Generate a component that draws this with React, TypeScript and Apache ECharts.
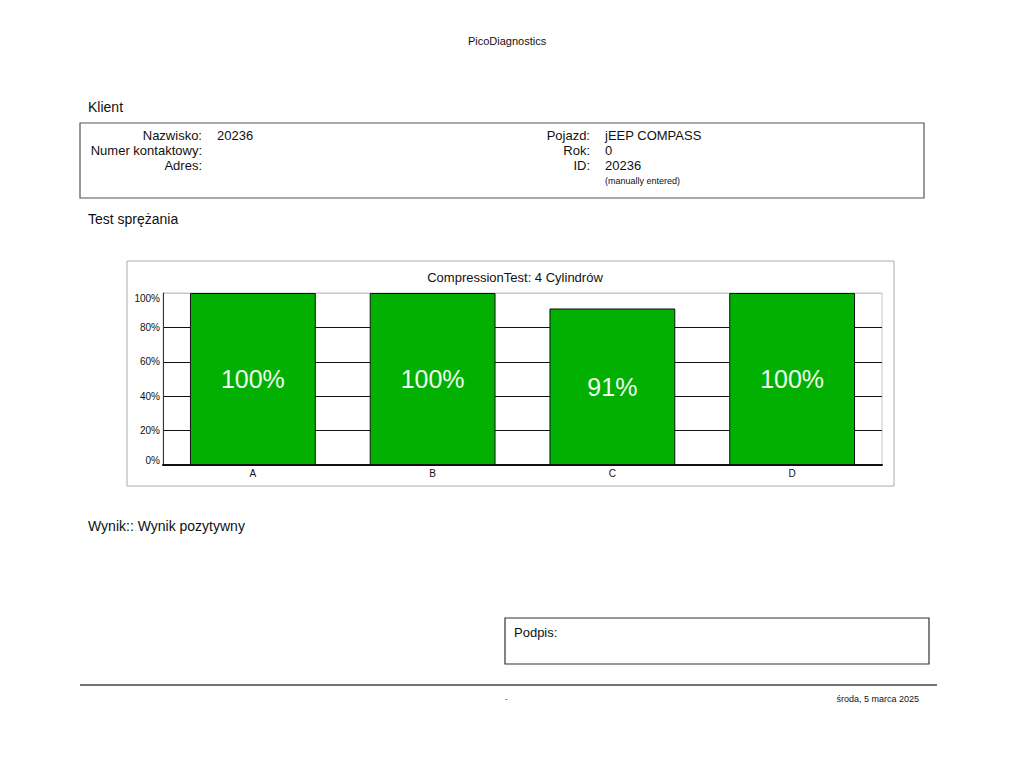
import React, { useEffect, useRef } from "react";
import * as echarts from "echarts";

const categories = ["A", "B", "C", "D"];
const compression = [100, 100, 91, 100];
const yTicks = [0, 20, 40, 60, 80, 100];

const FONT = "Liberation Sans, Arial, sans-serif";

function txt(x: number, y: number, text: string, size: number, align = "left", color = "#111") {
  return {
    type: "text",
    x,
    y,
    silent: true,
    style: {
      text,
      font: `${size}px ${FONT}`,
      fill: color,
      align,
      verticalAlign: "middle",
    },
  };
}

export default function App() {
  const ref = useRef<HTMLDivElement>(null);
  useEffect(() => {
    if (!ref.current) return;
    const chart = echarts.init(ref.current, undefined, { renderer: "svg" });
    const option: any = {
      animation: false,
      backgroundColor: "#ffffff",
      title: {
        text: "CompressionTest: 4 Cylindrów",
        left: 510,
        top: 266,
        textAlign: "center",
        textStyle: { fontFamily: FONT, fontSize: 13, fontWeight: "normal", color: "#111" },
      },
      grid: {
        left: 163,
        top: 293,
        width: 719,
        height: 172,
        show: true,
        borderColor: "#c8c8c8",
        borderWidth: 1,
        backgroundColor: "transparent",
      },
      xAxis: {
        type: "category",
        data: categories,
        axisLine: { show: true, lineStyle: { color: "#111", width: 2 } },
        axisTick: { show: false },
        axisLabel: { fontFamily: FONT, fontSize: 10, color: "#111", margin: 3 },
        z: 5,
      },
      yAxis: {
        type: "value",
        min: 0,
        max: 100,
        interval: 20,
        axisLine: { show: true, lineStyle: { color: "#333", width: 1 } },
        axisTick: { show: false },
        axisLabel: {
          fontFamily: FONT,
          fontSize: 10,
          color: "#111",
          margin: 3,
          formatter: (v: number) => (yTicks.includes(v) ? `${v}%` : ""),
          verticalAlignMinLabel: "bottom",
          verticalAlignMaxLabel: "top",
        },
        splitLine: {
          show: true,
          lineStyle: { color: ["#111", "#111", "#111", "#111", "#111", "#c8c8c8"], width: 1 },
        },
      },
      series: [
        {
          type: "bar",
          data: compression,
          barWidth: "70%",
          itemStyle: { color: "#02b002", borderColor: "#111", borderWidth: 1 },
          label: {
            show: true,
            position: "inside",
            formatter: "{c}%",
            fontFamily: FONT,
            fontSize: 25,
            color: "#eefcee",
          },
          z: 3,
        },
      ],
      graphic: [
        txt(507, 41, "PicoDiagnostics", 11, "center"),
        txt(88, 107, "Klient", 14),
        {
          type: "rect",
          silent: true,
          shape: { x: 80, y: 123, width: 844, height: 75 },
          style: { fill: "none", stroke: "#555", lineWidth: 1.2 },
        },
        txt(202, 135, "Nazwisko:", 13, "right"),
        txt(202, 150, "Numer kontaktowy:", 13, "right"),
        txt(202, 165, "Adres:", 13, "right"),
        txt(217, 135, "20236", 13),
        txt(590, 135, "Pojazd:", 13, "right"),
        txt(590, 150, "Rok:", 13, "right"),
        txt(590, 165, "ID:", 13, "right"),
        txt(605, 135, "jEEP COMPASS", 13),
        txt(605, 150, "0", 13),
        txt(605, 165, "20236", 13),
        txt(605, 181, "(manually entered)", 9),
        txt(88, 219, "Test sprężania", 14),
        {
          type: "rect",
          silent: true,
          shape: { x: 127, y: 261, width: 767, height: 225 },
          style: { fill: "none", stroke: "#aaa", lineWidth: 1 },
        },
        txt(88, 526, "Wynik:: Wynik pozytywny", 14),
        {
          type: "rect",
          silent: true,
          shape: { x: 505, y: 618, width: 424, height: 46 },
          style: { fill: "none", stroke: "#333", lineWidth: 1.2 },
        },
        txt(514, 632, "Podpis:", 13),
        {
          type: "line",
          silent: true,
          shape: { x1: 80, y1: 685, x2: 937, y2: 685 },
          style: { stroke: "#444", lineWidth: 1.5 },
        },
        txt(505, 698, "-", 8),
        txt(919, 699, "środa, 5 marca 2025", 9, "right"),
      ],
    };
    chart.setOption(option);
    return () => chart.dispose();
  }, []);
  return (
    <div
      ref={ref}
      style={{ position: "absolute", left: 0, top: 0, width: 1024, height: 768 }}
    />
  );
}
